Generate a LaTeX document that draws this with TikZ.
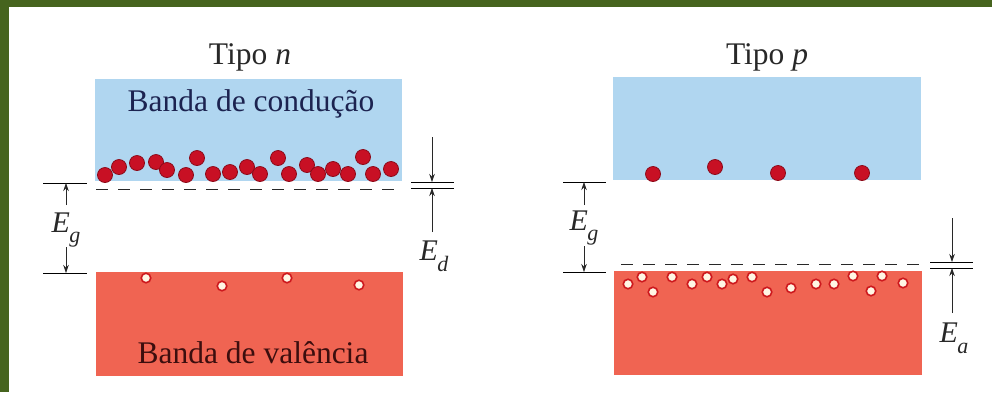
\documentclass[tikz,border=0pt]{standalone}
\usepackage{fontspec}
\setmainfont{Liberation Serif}
\usetikzlibrary{arrows.meta}
\definecolor{framegreen}{RGB}{70,100,30}
\definecolor{cband}{RGB}{176,214,240}
\definecolor{vband}{RGB}{240,100,82}
\definecolor{elecfill}{RGB}{200,16,36}
\definecolor{elecrim}{RGB}{140,10,25}
\definecolor{holering}{RGB}{205,25,30}
\definecolor{holefill}{RGB}{255,246,228}
\definecolor{condtext}{RGB}{28,35,80}
\definecolor{valtext}{RGB}{60,14,14}
\definecolor{inkgray}{RGB}{40,40,40}
\newcommand{\esub}[2]{\textit{#1}\kern-0.5pt\raisebox{-0.36em}{\fontsize{22}{22}\selectfont\textit{#2}}}
\tikzset{
  bandbox/.style={inner sep=0pt, outer sep=0pt, draw=none, minimum width=307pt, minimum height=102pt},
  electron/.style={circle, inner sep=0pt, minimum size=15pt, fill=elecfill, draw=elecrim, line width=0.8pt},
  hole/.style={circle, inner sep=0pt, minimum size=9.5pt, fill=holefill, draw=holering, line width=1.6pt},
  bigtext/.style={font=\fontsize{31.5}{34}\selectfont, inner sep=0pt},
  labtext/.style={font=\fontsize{30}{32}\selectfont, text=inkgray, inner sep=0pt},
  level/.style={draw=black, line width=0.8pt},
  dashlevel/.style={draw=inkgray, line width=0.9pt, dash pattern=on 12pt off 10pt},
  dimarrow/.style={draw=inkgray, line width=0.6pt, -{Stealth[length=8pt, width=5.5pt]}},
}
\begin{document}
\begin{tikzpicture}[x=1pt, y=-1pt]
\useasboundingbox (0,0) rectangle (992,392);
\fill[framegreen] (0,0) rectangle (992,392);
\fill[white] (9,7) rectangle (992,392);

% ---------------- Tipo n ----------------
\node[bigtext, text=inkgray] (titn) at (250,57) {Tipo \textit{n}};
\node[bandbox, fill=cband] (cbn) at (248.5,130) {};
\node[bandbox, fill=vband, minimum height=104pt] (vbn) at (249.5,324) {};
\node[bigtext, text=condtext] (condn) at (251,104) {Banda de condução};
\node[bigtext, text=valtext] (valn) at (253,353) {Banda de valência};

\foreach \x/\y [count=\i] in {105/175,119/167,137/163,156/162,167/170,186/175,197/158,213/174,230/172,247/167,260/174,278/158,289/174,307/165,318/174,333/169,348/174,363/157,373/174,391/169}
  \node[electron] (en\i) at (\x,\y) {};
\foreach \x/\y [count=\i] in {146/278,222/286,287/278,359/285}
  \node[hole] (hn\i) at (\x,\y) {};

\coordinate (dnA) at (96,189);
\coordinate (dnB) at (402,189);
\draw[dashlevel] (dnA) -- (dnB);

% Eg left
\coordinate (egnTl) at (43,183); \coordinate (egnTr) at (87,183);
\coordinate (egnBl) at (43,273); \coordinate (egnBr) at (87,273);
\draw[level] (egnTl) -- (egnTr);
\draw[level] (egnBl) -- (egnBr);
\node[labtext] (egn) at (66,230) {\esub{E}{g}};
\coordinate (egnUp) at (66,205); \coordinate (egnDn) at (66,247);
\draw[dimarrow] (egnUp) -- (66,183);
\draw[dimarrow] (egnDn) -- (66,273);

% Ed
\coordinate (edTl) at (411,182); \coordinate (edTr) at (454,182);
\coordinate (edBl) at (411,188); \coordinate (edBr) at (454,188);
\draw[level] (edTl) -- (edTr);
\draw[level] (edBl) -- (edBr);
\coordinate (edTop) at (432,137); \coordinate (edBot) at (432,232);
\draw[dimarrow] (edTop) -- (432,182);
\draw[dimarrow] (edBot) -- (432,188);
\node[labtext] (ed) at (434,256) {\esub{E}{d}};

% ---------------- Tipo p ----------------
\node[bigtext, text=inkgray] (titp) at (767,57) {Tipo \textit{p}};
\node[bandbox, fill=cband, minimum width=308pt, minimum height=103pt] (cbp) at (767,128.5) {};
\node[bandbox, fill=vband, minimum width=308pt, minimum height=104pt] (vbp) at (768,323) {};

\foreach \x/\y [count=\i] in {653/174,715/167,778/173,862/173}
  \node[electron] (ep\i) at (\x,\y) {};
\foreach \x/\y [count=\i] in {628/284,642/277,653/292,672/277,692/284,707/277,722/284,733/279,752/277,767/292,791/288,816/284,834/284,853/276,871/291,882/276,903/283}
  \node[hole] (hp\i) at (\x,\y) {};

\coordinate (dpA) at (621,264);
\coordinate (dpB) at (922,264);
\draw[dashlevel] (dpA) -- (dpB);

% Eg right
\coordinate (egpTl) at (563,182); \coordinate (egpTr) at (606,182);
\coordinate (egpBl) at (563,272); \coordinate (egpBr) at (606,272);
\draw[level] (egpTl) -- (egpTr);
\draw[level] (egpBl) -- (egpBr);
\node[labtext] (egp) at (584,228) {\esub{E}{g}};
\coordinate (egpUp) at (584,205); \coordinate (egpDn) at (584,246);
\draw[dimarrow] (egpUp) -- (584,182);
\draw[dimarrow] (egpDn) -- (584,272);

% Ea
\coordinate (eaTl) at (930,262); \coordinate (eaTr) at (973,262);
\coordinate (eaBl) at (930,268); \coordinate (eaBr) at (973,268);
\draw[level] (eaTl) -- (eaTr);
\draw[level] (eaBl) -- (eaBr);
\coordinate (eaTop) at (952,218); \coordinate (eaBot) at (952,313);
\draw[dimarrow] (eaTop) -- (952,262);
\draw[dimarrow] (eaBot) -- (952,268);
\node[labtext] (ea) at (954,338) {\esub{E}{a}};
\end{tikzpicture}
\end{document}
